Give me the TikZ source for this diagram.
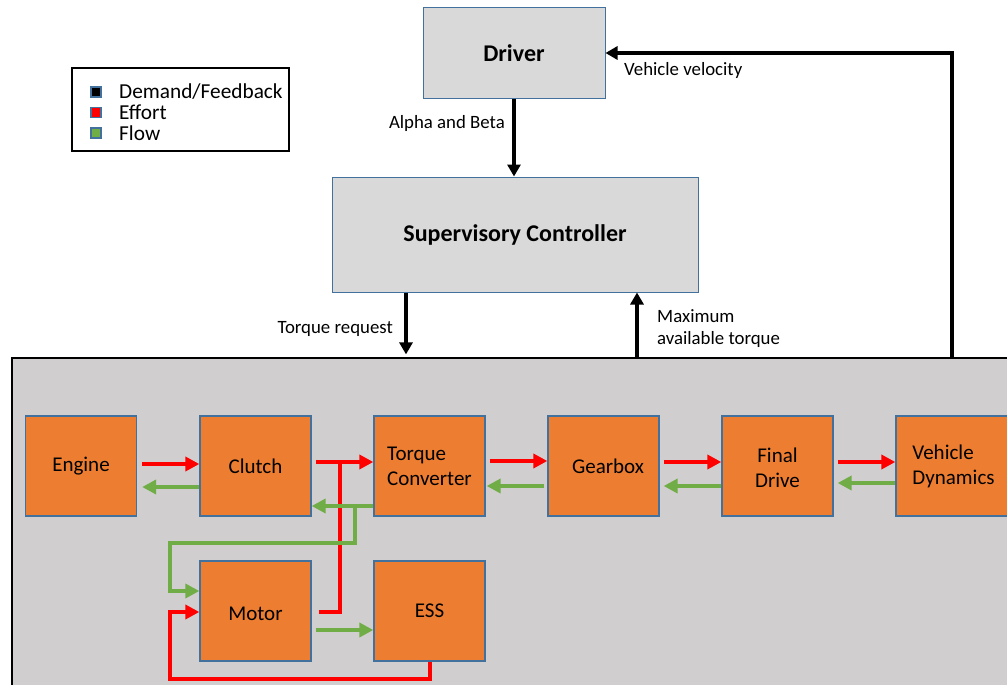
\documentclass[tikz,border=0pt]{standalone}
\usepackage{fontspec}
\setmainfont{Carlito}
\usetikzlibrary{arrows.meta}
\definecolor{blockorange}{HTML}{ED7D31}
\definecolor{blockedge}{HTML}{41719C}
\definecolor{ctrlgray}{HTML}{D9D9D9}
\definecolor{plantgray}{HTML}{D0CECE}
\definecolor{effortred}{HTML}{FF0000}
\definecolor{flowgreen}{HTML}{70AD47}
\begin{document}
\begin{tikzpicture}[x=1pt,y=-1pt,
  block/.style={draw=blockedge, line width=1.3pt, fill=blockorange,
    minimum width=111pt, minimum height=100pt, inner sep=0pt,
    font=\fontsize{21}{25}\selectfont},
  ctrl/.style={draw=blockedge, line width=1pt, fill=ctrlgray, inner sep=0pt,
    font=\bfseries\fontsize{24}{28}\selectfont},
  effortline/.style={draw=effortred, line width=4pt},
  flowline/.style={draw=flowgreen, line width=4pt},
  effort/.style={effortline, -{Triangle[length=14pt,width=14pt]}},
  flow/.style={flowline, -{Triangle[length=14pt,width=14pt]}},
  signal/.style={draw=black, line width=4pt, -{Triangle[length=12pt,width=13pt]}},
  lbl/.style={font=\fontsize{18.8}{22}\selectfont, inner sep=0pt},
  keybox/.style={draw=blockedge, line width=1.6pt, minimum size=10pt, inner sep=0pt},
  keytext/.style={font=\fontsize{21.3}{25}\selectfont, inner sep=0pt, anchor=west}
]
\useasboundingbox (0,0) rectangle (1007,685);
\clip (0,0) rectangle (1007,685);
\fill[white] (0,0) rectangle (1007,685);

% plant area
\node[draw=black, line width=1.2pt, fill=plantgray, minimum width=1008pt,
      minimum height=342pt, inner sep=0pt] (plant) at (516,529) {};

% legend
\node[draw=black, line width=1.3pt, minimum width=217pt, minimum height=83pt,
      inner sep=0pt] (legend) at (180.5,109.5) {};
\node[keybox, fill=black] (kdemand) at (96,92) {};
\node[keybox, fill=effortred] (keffort) at (96,112.5) {};
\node[keybox, fill=flowgreen] (kflow) at (96,133) {};
\node[keytext] (tdemand) at (119,92) {Demand/Feedback};
\node[keytext] (teffort) at (119,112.5) {Effort};
\node[keytext] (tflow) at (119,133) {Flow};

% controllers
\node[ctrl, minimum width=182pt, minimum height=90pt] (driver) at (514,53) {Driver};
\node[ctrl, minimum width=366pt, minimum height=115pt] (sup) at (515,234.5) {Supervisory Controller};

% powertrain blocks
\node[block] (engine) at (81,466) {Engine};
\node[block, text height=15.5pt] (clutch) at (255.5,466) {Clutch};
\node[block, align=left] (tc) at (429.5,466) {Torque\\Converter};
\node[block] (gearbox) at (603.5,466) {\hspace{9pt}Gearbox};
\node[block, align=center] (fd) at (777.5,466) {\rule{0pt}{19pt}Final\\Drive};
\node[block, align=left, minimum width=115pt] (vd) at (953.5,466) {Vehicle\\Dynamics};
\node[block, text height=19.3pt] (motor) at (255.5,611) {Motor};
\node[block] (ess) at (429.5,611) {ESS};

% demand / feedback signals
\draw[signal] (driver.south) -- (driver.south |- sup.north);
\node[lbl, anchor=east] (lalpha) at (505,123) {Alpha and Beta};
\draw[signal, shorten >=3pt] (sup.south -| 406,0) -- (plant.north -| 406,0);
\node[lbl, anchor=east] (ltorque) at (393,329) {Torque request};
\draw[signal] (plant.north -| 637,0) -- (sup.south -| 637,0);
\node[lbl, anchor=west, align=left] (lmax) at (657,329) {Maximum\\available torque};
\draw[signal] (plant.north -| 952,0) |- (driver.east);
\node[lbl, anchor=west] (lvel) at (624,70) {Vehicle velocity};

% effort paths
\coordinate (rjoin) at (340,460);
\draw[effort, shorten <=5pt] (engine.east |- 0,464) -- (clutch.west |- 0,464);
\draw[effort, shorten <=4pt] (clutch.east |- 0,462) -- (tc.west |- 0,462);
\draw[effortline, shorten <=7pt] (motor.east |- 0,612) -| (rjoin);
\draw[effort, shorten <=4pt] (tc.east |- 0,461) -- (gearbox.west |- 0,461);
\draw[effort, shorten <=4pt] (gearbox.east |- 0,462) -- (fd.west |- 0,462);
\draw[effort, shorten <=4pt] (fd.east |- 0,462) -- (vd.west |- 0,462);
\draw[effort] (ess.south) |- (170,679) |- (motor.west |- 0,612);

% flow paths
\coordinate (gjoin) at (355,506);
\draw[flow, shorten >=5pt] (clutch.west |- 0,487) -- (engine.east |- 0,487);
\draw[flow] (tc.west |- 0,506) -- (clutch.east |- 0,506);
\draw[flow] (gjoin) |- (170,543) |- (motor.west |- 0,591);
\draw[flow, shorten <=4pt] (motor.east |- 0,630) -- (ess.west |- 0,630);
\draw[flow, shorten <=3pt, shorten >=1pt] (gearbox.west |- 0,486) -- (tc.east |- 0,486);
\draw[flow, shorten >=4pt] (fd.west |- 0,486) -- (gearbox.east |- 0,486);
\draw[flow, shorten >=4pt] (vd.west |- 0,483) -- (fd.east |- 0,483);
\end{tikzpicture}
\end{document}
